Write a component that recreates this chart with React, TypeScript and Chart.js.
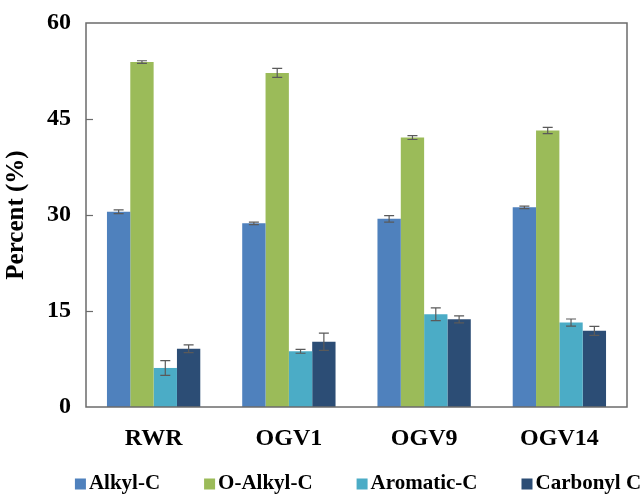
import React, { useEffect, useRef } from "react";
import { Chart, registerables } from "chart.js";

Chart.register(...registerables);

const categories = ["RWR", "OGV1", "OGV9", "OGV14"];
const seriesNames = ["Alkyl-C", "O-Alkyl-C", "Aromatic-C", "Carbonyl C"];
const alkyl = [30.5, 28.7, 29.4, 31.2];
const oAlkyl = [53.9, 52.2, 42.1, 43.2];
const aromatic = [6.1, 8.7, 14.5, 13.2];
const carbonyl = [9.1, 10.2, 13.7, 11.9];
const alkylErr = [0.3, 0.2, 0.5, 0.2];
const oAlkylErr = [0.2, 0.7, 0.3, 0.5];
const aromaticErr = [1.15, 0.3, 1.0, 0.55];
const carbonylErr = [0.6, 1.35, 0.55, 0.7];
const colors = ["#4F81BD", "#9BBB59", "#4BACC6", "#2C4D75"];
const yTicks = [0, 15, 30, 45, 60];

const FONT = "'Liberation Serif', 'Times New Roman', serif";

const errorBarPlugin = {
  id: "errorBars",
  afterDatasetsDraw(chart: any) {
    const ctx = chart.ctx;
    const y = chart.scales.y;
    ctx.save();
    ctx.strokeStyle = "#5a5a5a";
    ctx.lineWidth = 1.2;
    chart.data.datasets.forEach((ds: any, di: number) => {
      const meta = chart.getDatasetMeta(di);
      meta.data.forEach((el: any, i: number) => {
        const v = ds.data[i];
        const e = ds.errors[i];
        const x = el.x;
        const y1 = y.getPixelForValue(v - e);
        const y2 = y.getPixelForValue(v + e);
        ctx.beginPath();
        ctx.moveTo(x, y1);
        ctx.lineTo(x, y2);
        ctx.moveTo(x - 5, y1);
        ctx.lineTo(x + 5, y1);
        ctx.moveTo(x - 5, y2);
        ctx.lineTo(x + 5, y2);
        ctx.stroke();
      });
    });
    ctx.restore();
  },
};

const framePlugin = {
  id: "frame",
  afterDraw(chart: any) {
    const { ctx, chartArea } = chart;
    const y = chart.scales.y;
    ctx.save();
    ctx.strokeStyle = "#6b6b6b";
    ctx.lineWidth = 1.5;
    ctx.strokeRect(chartArea.left, chartArea.top, chartArea.right - chartArea.left, chartArea.bottom - chartArea.top);
    ctx.lineWidth = 1.2;
    yTicks.forEach((t) => {
      if (t === 0 || t === 60) return;
      const py = Math.round(y.getPixelForValue(t)) + 0.5;
      ctx.beginPath();
      ctx.moveTo(chartArea.left, py);
      ctx.lineTo(chartArea.left + 7, py);
      ctx.stroke();
    });
    ctx.restore();
  },
};

const legendPlugin = {
  id: "customLegend",
  afterDraw(chart: any) {
    const ctx = chart.ctx;
    const font = `bold 21px ${FONT}`;
    ctx.save();
    ctx.font = font;
    const box = 11;
    const gapText = 3;
    const gapItem = 44;
    const items = chart.data.datasets.map((ds: any) => ({
      label: ds.label,
      color: ds.backgroundColor,
      w: ctx.measureText(ds.label).width,
    }));
    const total =
      items.reduce((s: number, it: any) => s + box + gapText + it.w, 0) + gapItem * (items.length - 1);
    const centerX = 358;
    const cy = 484;
    let x = centerX - total / 2;
    items.forEach((it: any) => {
      ctx.fillStyle = it.color;
      ctx.fillRect(x, cy - box / 2, box, box);
      x += box + gapText;
      ctx.fillStyle = "#000";
      ctx.textBaseline = "middle";
      ctx.textAlign = "left";
      ctx.fillText(it.label, x, cy);
      x += it.w + gapItem;
    });
    ctx.restore();
  },
};

export default function App() {
  const ref = useRef<HTMLCanvasElement | null>(null);
  useEffect(() => {
    document.body.style.margin = "0";
    const errs = [alkylErr, oAlkylErr, aromaticErr, carbonylErr];
    const vals = [alkyl, oAlkyl, aromatic, carbonyl];
    const chart = new Chart(ref.current as HTMLCanvasElement, {
      type: "bar",
      data: {
        labels: categories,
        datasets: seriesNames.map((n, i) => ({
          label: n,
          data: vals[i],
          errors: errs[i],
          backgroundColor: colors[i],
          borderWidth: 0,
          categoryPercentage: 0.69,
          barPercentage: 1.0,
        })) as any,
      },
      options: {
        animation: false,
        responsive: false,
        layout: { padding: { top: 23, right: 17, left: 0, bottom: 0 } },
        plugins: {
          legend: { display: false },
          tooltip: { enabled: false },
        },
        scales: {
          x: {
            grid: { display: false, drawTicks: false },
            border: { display: false },
            ticks: {
              font: { family: FONT, size: 24, weight: "bold" },
              color: "#000",
              padding: 17,
            },
            afterFit(scale: any) {
              scale.height = 87;
              scale.paddingLeft = 0;
              scale.paddingRight = 0;
            },
          },
          y: {
            min: 0,
            max: 60,
            afterBuildTicks(scale: any) {
              scale.ticks = yTicks.map((v) => ({ value: v }));
            },
            grid: { display: false, drawTicks: false },
            border: { display: false },
            ticks: {
              font: { family: FONT, size: 24, weight: "bold" },
              color: "#000",
              padding: 15,
            },
            title: {
              display: true,
              text: "Percent (%)",
              font: { family: FONT, size: 25, weight: "bold" },
              color: "#000",
              padding: { top: 2, bottom: 2 },
            },
            afterFit(scale: any) {
              scale.width = 86;
              scale.paddingTop = 0;
              scale.paddingBottom = 0;
            },
          },
        },
      },
      plugins: [errorBarPlugin, framePlugin, legendPlugin],
    } as any);
    return () => chart.destroy();
  }, []);
  return <canvas ref={ref} width={644} height={494} style={{ display: "block" }} />;
}
